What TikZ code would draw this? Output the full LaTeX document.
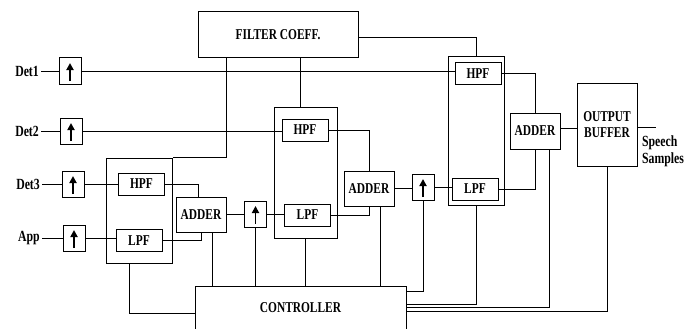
\documentclass[tikz,border=0pt]{standalone}
\usepackage{fontspec}
\setmainfont{Liberation Serif}[FakeStretch=0.76]
\usepackage{tikz}
\usetikzlibrary{arrows.meta,positioning}
\tikzset{
  box/.style = {draw, line width=1pt, inner sep=0pt, align=center, font = \fontsize{15}{16}\selectfont\bfseries},
  filt/.style = {box, minimum width=46, minimum height=22},
  add/.style = {box, minimum width=50, minimum height=35},
  grp/.style = {draw, line width=1pt, inner sep=0pt},
  upbox/.style = {draw, line width=1pt, inner sep=0pt, minimum width=22, minimum height=26,
    path picture={\draw[line width=1.8pt, -{Triangle[width=7pt,length=7pt]}]
      ([yshift=3pt]path picture bounding box.south) -- ([yshift=-5pt]path picture bounding box.north);}},
  lbl/.style = {inner sep=2pt, font = \fontsize{15.5}{17}\selectfont\bfseries},
  wire/.style = {line width=1pt}
}

\begin{document}
\begin{tikzpicture}[x = 1pt, y = -1pt]
\useasboundingbox (0,0) rectangle (693,329);
\clip (0,0) rectangle (693,329);
\node[box, minimum width=160, minimum height=46] (coef) at (278,35) {FILTER COEFF.};
\node[box, minimum width=211, minimum height=44] (ctrl) at (300.5,308) {CONTROLLER};
% inputs
\node[lbl, anchor = east] (det1) at (41,71) {Det1};
\node[lbl, anchor = east] (det2) at (41,131) {Det2};
\node[lbl, anchor = east] (det3) at (42,184) {Det3};
\node[lbl, anchor = east] (app) at (42,238) {App};
\node[upbox] (up1) at (70,71) {};
\node[upbox] (up2) at (71,131) {};
\node[upbox] (up3) at (73,184) {};
\node[upbox] (up4) at (74,238) {};
% first stage
\node[grp, minimum width=66, minimum height=105] (grpA) at (139,210.5) {};
\node[filt] (hpfA) at (141.5,184) {HPF};
\node[filt] (lpfA) at (139,240.5) {LPF};
\node[add] (addA) at (201,214.5) {ADDER};
\node[upbox] (up5) at (255.5,214) {};
% second stage
\node[grp, minimum width=63, minimum height=131] (grpB) at (305.5,172.5) {};
\node[filt] (hpfB) at (305,130) {HPF};
\node[filt] (lpfB) at (307.5,215) {LPF};
\node[add] (addB) at (369,188.5) {ADDER};
\node[upbox] (up6) at (423,187) {};
% third stage
\node[grp, minimum width=56, minimum height=148] (grpC) at (476,131) {};
\node[filt] (hpfC) at (478,73.5) {HPF};
\node[filt] (lpfC) at (475,189) {LPF};
\node[add, minimum height=36] (addC) at (535,131) {ADDER};
\node[box, minimum width=60, minimum height=83] (outb) at (607,124.5) {OUTPUT\\BUFFER};
\coordinate (spk) at (656,127);
\node[lbl, align = left] (smp) at (663,151) {Speech\\Samples};
% inputs to filters
\draw[wire] (det1) -- (up1);
\draw[wire] (det2) -- (up2);
\draw[wire] (det3) -- (up3);
\draw[wire] (app) -- (up4);
\draw[wire] (up1) -- (up1 -| hpfC.west);
\draw[wire] (up2) -- (up2 -| hpfB.west);
\draw[wire] (up3) -- (up3 -| hpfA.west);
\draw[wire] (up4) -- (up4 -| lpfA.west);
% filters to adders
\draw[wire] (hpfA.east) -| ([xshift=-3]addA.north);
\draw[wire] (lpfA.east) -| (addA.south);
\draw[wire] (addA.east) -- (addA.east -| up5.west);
\draw[wire] (up5.east) -- (up5.east -| lpfB.west);
\draw[wire] (hpfB.east) -| (addB.north);
\draw[wire] (lpfB.east) -| (addB.south);
\draw[wire] (addB.east) -- (addB.east -| up6.west);
\draw[wire] (up6.east) -- (up6.east -| lpfC.west);
\draw[wire] (hpfC.east) -| (addC.north);
\draw[wire] (lpfC.east) -| (addC.south);
\draw[wire] ([yshift=3]addC.east) -- ([yshift=3]addC.east -| outb.west);
\draw[wire] (outb.east |- spk) -- (spk);
% filter coefficients
\coordinate (cfa) at ([xshift=29]coef.south west);
\coordinate (cfb) at ([xshift=-5]grpB.north);
\draw[wire] (cfa) |- (grpA.north east);
\draw[wire] (cfb) -- (cfb |- coef.south);
\draw[wire] ([yshift=-3]coef.east) -| (grpC.north);
% controller
\coordinate (ca) at ([xshift=11]addA.south);
\coordinate (cb) at ([xshift=11]addB.south);
\draw[wire] ([xshift=-10]grpA.south) |- ([yshift=-5]ctrl.west);
\draw[wire] (ca) -- (ca |- ctrl.north);
\draw[wire] (up5) -- (up5 |- ctrl.north);
\draw[wire] (grpB) -- (grpB |- ctrl.north);
\draw[wire] (cb) -- (cb |- ctrl.north);
\draw[wire] (up6.south) |- ([yshift=17]ctrl.east);
\draw[wire] (grpC.south) |- ([yshift=4]ctrl.east);
\draw[wire] ([xshift=14]addC.south) |- ([yshift=1]ctrl.east);
\draw[wire] (outb.south) |- ([yshift=-3]ctrl.east);
\end{tikzpicture}
\end{document}
